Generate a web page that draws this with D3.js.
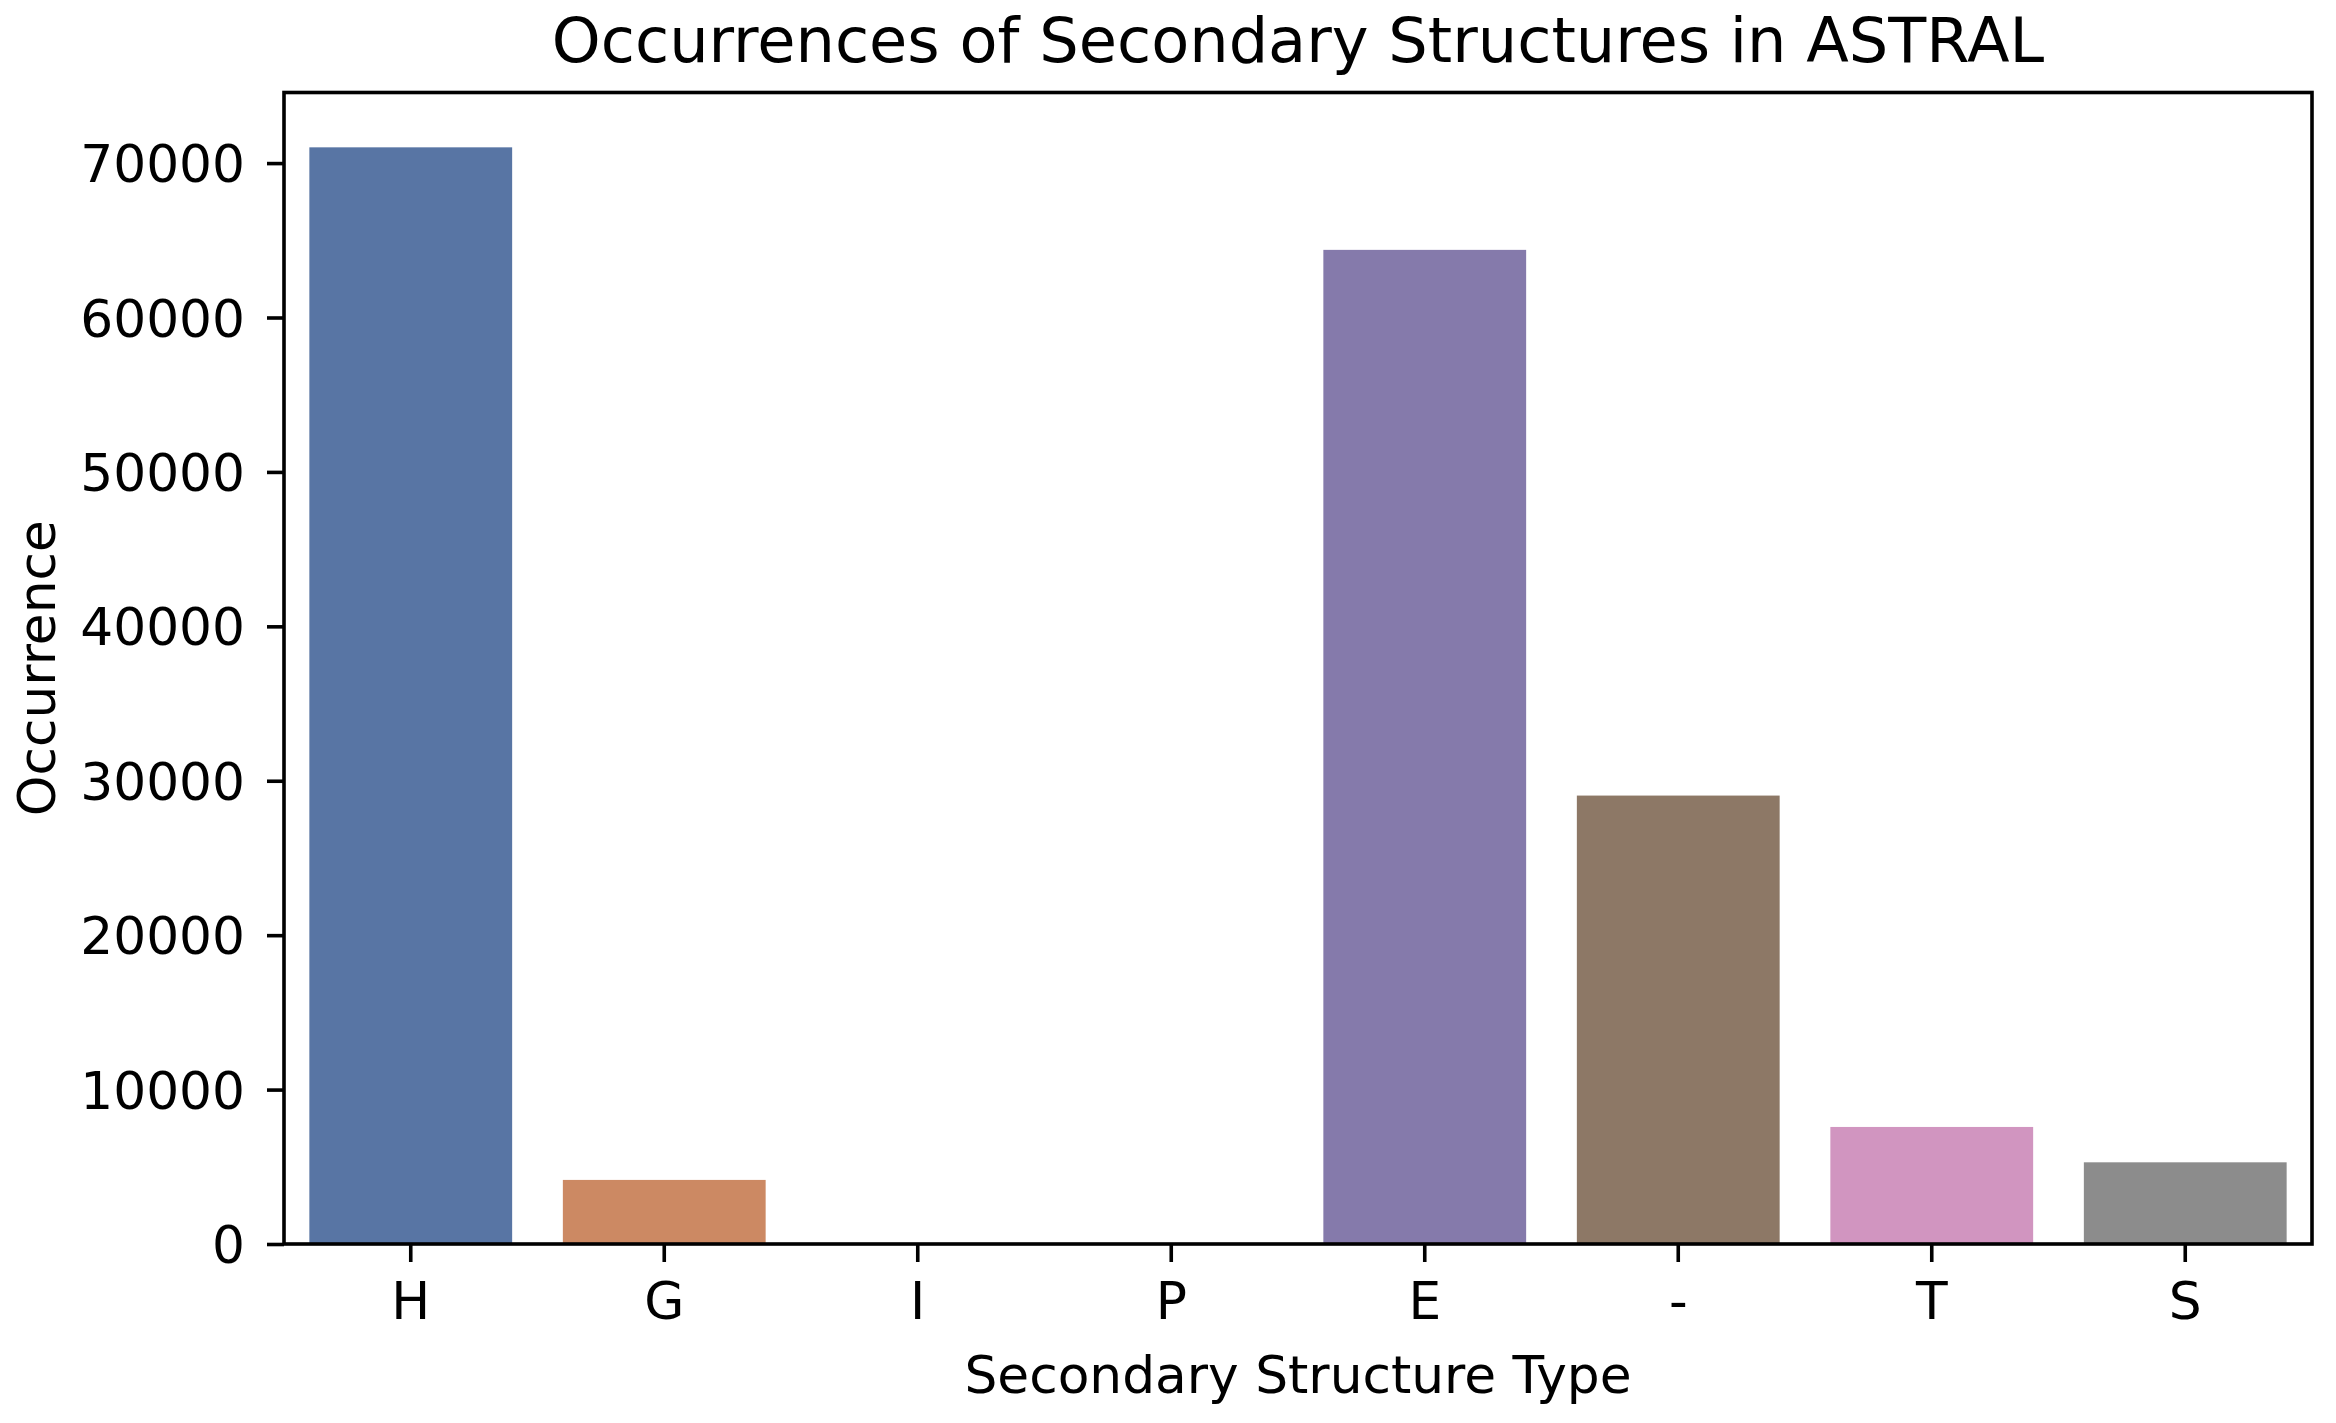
<!DOCTYPE html>
<html>
<head>
<meta charset="utf-8">
<script src="https://cdn.jsdelivr.net/npm/d3@7"></script>
<style>
  html, body { margin: 0; padding: 0; background: #fff; }
  svg { display: block; }
  text { font-family: "DejaVu Sans", sans-serif; fill: #000; }
</style>
</head>
<body>
<div id="chart"></div>
<script>
// Secondary structure categories, in plot order
const categories = ["H", "G", "I", "P", "E", "-", "T", "S"];
// Occurrence counts
const occurrences = [71020, 4150, 0, 0, 64380, 29040, 7580, 5290];
// seaborn "deep" palette, desaturated to 0.75 as barplot does
const barColors = ["#5875a4", "#cc8963", "#5f9e6e", "#b55d60", "#857aab", "#8d7866", "#d195c0", "#8c8c8c"];
const yTicks = [0, 10000, 20000, 30000, 40000, 50000, 60000, 70000];

const width = 2336, height = 1423;
const margin = { top: 92.5, right: 24, bottom: 179, left: 284 };
const innerW = width - margin.left - margin.right;
const innerH = height - margin.top - margin.bottom;
const lineW = 3.6;
const tickFont = 51.8;
const titleFont = 62.2;

const svg = d3.select("#chart").append("svg")
    .attr("width", width)
    .attr("height", height);

svg.append("rect").attr("width", width).attr("height", height).attr("fill", "#fff");

const g = svg.append("g").attr("transform", `translate(${margin.left},${margin.top})`);

const x = d3.scaleBand()
    .domain(categories)
    .range([0, innerW])
    .paddingInner(0.2)
    .paddingOuter(0.1);

// matplotlib leaves 5% headroom above the tallest bar
const y = d3.scaleLinear()
    .domain([0, d3.max(occurrences) * 1.05])
    .range([innerH, 0]);

g.selectAll("rect.bar")
    .data(categories)
    .enter()
    .append("rect")
    .attr("class", "bar")
    .attr("x", (d) => x(d))
    .attr("width", x.bandwidth())
    .attr("y", (d, i) => y(occurrences[i]))
    .attr("height", (d, i) => innerH - y(occurrences[i]))
    .attr("fill", (d, i) => barColors[i]);

// axes
const xAxis = g.append("g")
    .attr("transform", `translate(0,${innerH})`)
    .call(d3.axisBottom(x).tickSize(18).tickPadding(20));
xAxis.select(".domain").remove();
xAxis.selectAll("line").attr("stroke", "#000").attr("stroke-width", lineW);
xAxis.selectAll("text").attr("font-size", tickFont).attr("font-family", "DejaVu Sans");

const yAxis = g.append("g")
    .call(d3.axisLeft(y).tickValues(yTicks).tickFormat(d3.format("d")).tickSize(17).tickPadding(22));
yAxis.select(".domain").remove();
yAxis.selectAll("line").attr("stroke", "#000").attr("stroke-width", lineW);
yAxis.selectAll("text").attr("font-size", tickFont).attr("font-family", "DejaVu Sans").attr("dy", "0.36em");

// frame (all four spines)
g.append("rect")
    .attr("width", innerW)
    .attr("height", innerH)
    .attr("fill", "none")
    .attr("stroke", "#000")
    .attr("stroke-width", lineW);

// title and axis labels
svg.append("text")
    .attr("x", margin.left + innerW / 2)
    .attr("y", 62)
    .attr("text-anchor", "middle")
    .attr("font-size", titleFont)
    .text("Occurrences of Secondary Structures in ASTRAL");

svg.append("text")
    .attr("x", margin.left + innerW / 2)
    .attr("y", 1393)
    .attr("text-anchor", "middle")
    .attr("font-size", tickFont)
    .text("Secondary Structure Type");

svg.append("text")
    .attr("transform", `translate(55,${margin.top + innerH / 2}) rotate(-90)`)
    .attr("text-anchor", "middle")
    .attr("font-size", tickFont)
    .text("Occurrence");
</script>
</body>
</html>
